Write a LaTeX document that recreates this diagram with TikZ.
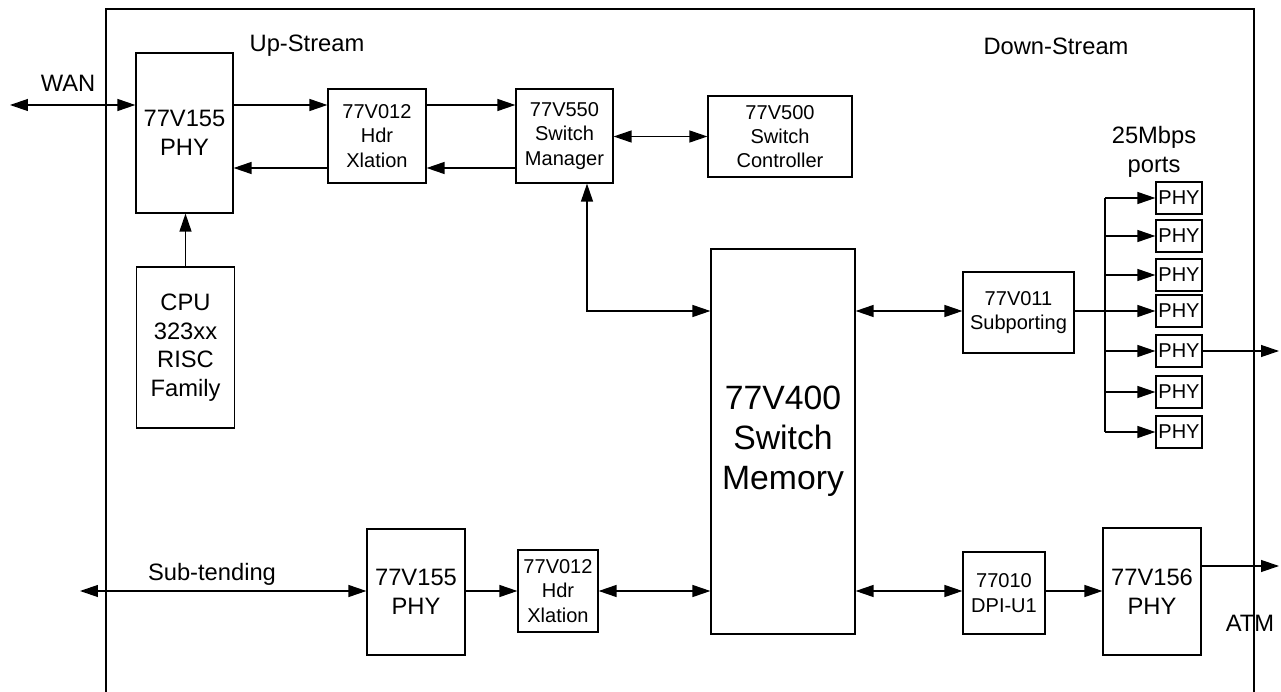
\documentclass[tikz,border=0pt]{standalone}
\usepackage{fontspec}
\setmainfont{Liberation Sans}
\usetikzlibrary{arrows.meta,calc}
\newcommand\lbltxt{\fontsize{13.5}{16.2}\selectfont}
\newcommand\chiptxt{\fontsize{11.4}{13.8}\selectfont}
\newcommand\memtxt{\fontsize{19.2}{22.8}\selectfont}

\begin{document}
\begin{tikzpicture}[x=0.02cm, y=-0.02cm, line width=0.7pt,
  >={Triangle[length=0.36cm,width=0.24cm]},
  chip/.style={draw, align=center, inner sep=0pt},
  port/.style={chip, font=\chiptxt, minimum width=0.92cm, minimum height=0.64cm},
  lbl/.style={font=\lbltxt, inner sep=0pt, align=center}]
  \useasboundingbox (0,0) rectangle (1281,692);
  \draw (106,9) rectangle (1254,720);

  \node[chip, font=\lbltxt, minimum width=1.94cm, minimum height=3.2cm] (phyA) at (184.5,133) {77V155\\PHY};
  \node[chip, font=\chiptxt, minimum width=1.96cm, minimum height=1.88cm] (hdrA) at (377,136) {77V012\\Hdr\\Xlation};
  \node[chip, font=\chiptxt, minimum width=1.94cm, minimum height=1.88cm] (mgr) at (564.5,136) {77V550\\Switch\\Manager};
  \node[chip, font=\chiptxt, minimum width=2.88cm, minimum height=1.62cm] (ctrl) at (780,136.5) {77V500\\Switch\\Controller};
  \node[chip, font=\lbltxt, minimum width=1.96cm, minimum height=3.22cm] (cpu) at (185.5,347.5) {CPU\\323xx\\RISC\\Family};
  \node[chip, font=\memtxt, minimum width=2.88cm, minimum height=7.7cm] (mem) at (783,441.5) {77V400\\Switch\\Memory};
  \node[chip, font=\chiptxt, minimum width=2.22cm, minimum height=1.62cm] (sub) at (1018.5,312.5) {77V011\\Subporting};
  \foreach \i/\yy in {1/198,2/236,3/275,4/311,5/351,6/392,7/432}
    \node[port] (p\i) at (1179,\yy) {PHY};
  \node[chip, font=\lbltxt, minimum width=1.96cm, minimum height=2.52cm] (phyB) at (416,592) {77V155\\PHY};
  \node[chip, font=\chiptxt, minimum width=1.6cm, minimum height=1.64cm] (hdrB) at (558,591) {77V012\\Hdr\\Xlation};
  \node[chip, font=\chiptxt, minimum width=1.64cm, minimum height=1.64cm] (dpi) at (1004,593) {77010\\DPI-U1};
  \node[chip, font=\lbltxt, minimum width=1.96cm, minimum height=2.54cm] (phyC) at (1152,591.5) {77V156\\PHY};

  \node[lbl] (wan) at (68,83) {WAN};
  \node[lbl] (up) at (307,46) {Up-Stream};
  \node[lbl] (down) at (1056,46) {Down-Stream};
  \node[lbl] (ports) at (1154,152) {25Mbps\\ports};
  \node[lbl] (subt) at (212,574) {Sub-tending};
  \node[lbl] (atm) at (1250,623) {ATM};

  \coordinate (wanEnd) at (10,105);
  \coordinate (subEnd) at (80,591);
  \coordinate (r1) at (0,105);
  \coordinate (r2) at (0,168);
  \coordinate (r3) at (0,591);
  \coordinate (elbow) at (587,311);
  \coordinate (bus) at (1105,311);
  \coordinate (portOut) at (1279,351);
  \coordinate (atmOut) at (1279,566);

  \draw[<->] (wanEnd) -- (wanEnd -| phyA.west);
  \draw[->] (phyA.east |- r1) -- (hdrA.west |- r1);
  \draw[->] (hdrA.east |- r1) -- (mgr.west |- r1);
  \draw[->] (mgr.west |- r2) -- (hdrA.east |- r2);
  \draw[->] (hdrA.west |- r2) -- (phyA.east |- r2);
  \draw[<->] (mgr.east |- ctrl.west) -- (ctrl.west);
  \draw[->] (cpu.north) -- (cpu.north |- phyA.south);
  \draw[<->] (mgr.south -| elbow) -- (elbow) -- (elbow -| mem.west);
  \draw[<->] (mem.east |- bus) -- (sub.west |- bus);
  \draw (sub.east |- bus) -- (bus);
  \draw (bus |- p1) -- (bus |- p7);
  \foreach \i in {1,...,7}
    \draw[->] (bus |- p\i) -- (p\i.west);
  \draw[->] (p5.east) -- (portOut);
  \draw[<->] (subEnd) -- (phyB.west |- subEnd);
  \draw[->] (phyB.east |- r3) -- (hdrB.west |- r3);
  \draw[<->] (hdrB.east |- r3) -- (mem.west |- r3);
  \draw[<->] (mem.east |- r3) -- (dpi.west |- r3);
  \draw[->] (dpi.east |- r3) -- (phyC.west |- r3);
  \draw[->] (phyC.east |- atmOut) -- (atmOut);
\end{tikzpicture}
\end{document}
